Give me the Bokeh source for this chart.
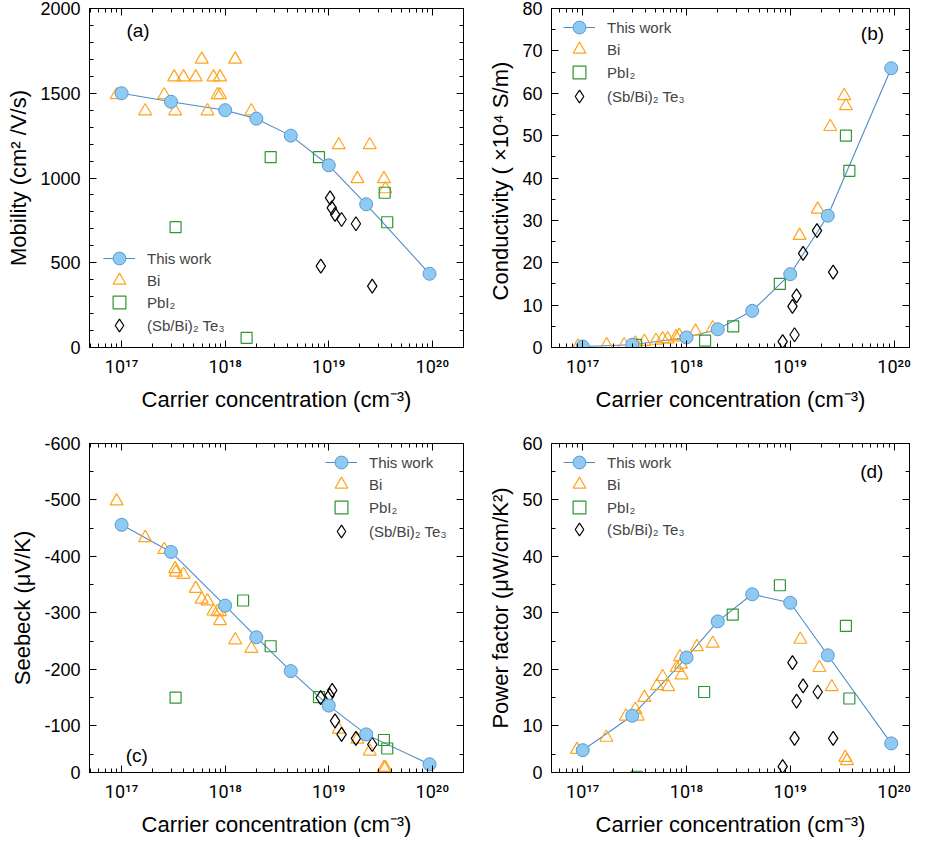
from bokeh.plotting import figure
from bokeh.layouts import column, row
from bokeh.models import (Range1d, LogAxis, LinearAxis, FixedTicker, SingleIntervalTicker,
                          CustomJSTickFormatter, Legend, LegendItem, Label)
from bokeh.embed import file_html
from bokeh.resources import INLINE

FONT = "Liberation Sans"
TICK_FONT_X = "Roboto"

# ---------------- data ----------------
# "This work" (shared carrier concentrations, cm^-3)
tw_n = [1.0e17, 3.0e17, 1.0e18, 2.0e18, 4.3e18, 1.0e19, 2.3e19, 9.4e19]
mob_tw = [1500, 1450, 1400, 1350, 1250, 1075, 845, 435]
cond_tw = [0.24, 0.64, 2.36, 4.3, 8.65, 17.3, 31.1, 65.9]
seeb_tw = [-456, -408, -313, -257, -197, -136, -85, -32]
pf_tw = [5.7, 11.8, 22.1, 28.5, 33.3, 31.8, 22.5, 6.9]

# (a) mobility
mob_bi_n = [8.95e16, 1.69e17, 2.58e17, 3.29e17, 3.22e17, 3.96e17, 5.20e17, 5.94e17, 6.75e17, 7.71e17,
            8.93e17, 8.43e17, 8.93e17, 1.25e18, 1.79e18, 1.25e19, 2.49e19, 1.89e19, 3.41e19, 3.52e19]
mob_bi = [1490, 1395, 1490, 1395, 1595, 1595, 1595, 1700, 1395, 1595,
          1595, 1490, 1490, 1700, 1395, 1195, 1195, 995, 995, 935]
mob_pb_n = [3.32e17, 2.75e18, 8.05e18, 3.47e19, 3.67e19, 1.61e18]
mob_pb = [710, 1123, 1123, 913, 739, 57]
mob_sb_n = [1.03e19, 1.07e19, 1.15e19, 1.33e19, 1.83e19, 8.38e18, 2.63e19]
mob_sb = [883, 824, 785, 755, 730, 480, 362]

# (b) conductivity (x10^4 S/m)
cond_bi_n = [9.0e16, 1.70e17, 2.51e17, 3.21e17, 3.93e17, 5.08e17, 5.89e17, 6.59e17, 7.93e17, 8.51e17,
             1.22e18, 1.79e18, 1.23e19, 1.84e19, 2.43e19, 3.31e19, 3.44e19]
cond_bi = [0.3, 0.6, 0.6, 1.0, 1.4, 1.65, 2.0, 2.0, 2.45, 2.8,
           3.8, 4.6, 26.4, 32.6, 52.1, 59.4, 57.0]
cond_pb_n = [3.27e17, 1.51e18, 2.82e18, 7.94e18, 3.44e19, 3.71e19]
cond_pb = [0.6, 1.6, 5.0, 15.0, 50.0, 41.7]
cond_sb_n = [1.81e19, 1.33e19, 2.59e19, 1.15e19, 1.05e19, 1.10e19, 8.45e18]
cond_sb = [27.6, 22.2, 17.8, 12.2, 9.7, 3.0, 1.4]

# (c) Seebeck (uV/K)
seeb_bi_n = [8.95e16, 1.69e17, 2.58e17, 3.29e17, 3.35e17, 3.96e17, 5.20e17, 5.94e17, 6.75e17, 7.71e17,
             8.43e17, 8.93e17, 8.93e17, 1.25e18, 1.79e18, 1.25e19, 1.89e19, 2.49e19, 3.41e19, 3.52e19]
seeb_bi = [-498, -433, -412, -378, -372, -368, -343, -324, -321, -303,
           -302, -302, -286, -252, -237, -94, -76, -55, -26, -26]
seeb_pb_n = [3.32e17, 1.49e18, 2.75e18, 8.05e18, 3.41e19, 3.67e19]
seeb_pb = [-150, -322, -241, -151, -75, -60]
seeb_sb_n = [8.36e18, 1.02e19, 1.08e19, 1.15e19, 1.33e19, 1.83e19, 2.63e19]
seeb_sb = [-150, -154, -163, -109, -85, -78, -67]

# (d) power factor (uW/cm/K^2)
pf_bi_n = [8.81e16, 1.69e17, 2.61e17, 3.21e17, 3.39e17, 3.93e17, 5.20e17, 5.89e17, 6.68e17, 8.05e17,
           8.65e17, 8.85e17, 8.97e17, 1.26e18, 1.79e18, 1.25e19, 1.91e19, 2.51e19, 3.39e19, 3.52e19]
pf_bi = [5.8, 7.95, 11.7, 12.9, 11.7, 15.0, 17.1, 18.7, 16.9, 20.3,
         22.2, 20.9, 19.0, 24.0, 24.6, 25.3, 20.3, 16.9, 4.4, 3.8]
pf_pb_n = [3.31e17, 1.48e18, 2.79e18, 7.94e18, 3.44e19, 3.71e19]
pf_pb = [1.0, 16.0, 29.7, 34.9, 27.7, 14.85]
pf_sb_n = [1.05e19, 1.33e19, 1.84e19, 1.15e19, 1.10e19, 2.59e19, 8.45e18]
pf_sb = [21.2, 17.1, 16.0, 14.4, 7.8, 7.8, 2.8]

series_labels = ["This work", "Bi", "PbI\u2082", "(Sb/Bi)\u2082 Te\u2083"]
x_label = "Carrier concentration (cm\u207b\u00b3)"
x_major = [1e17, 1e18, 1e19, 1e20]
x_minor = [m * 10.0 ** e for e in range(16, 21) for m in range(2, 10)]

SUP_JS = """
const s = {"0":"\u2070","1":"\u00b9","2":"\u00b2","3":"\u00b3","4":"\u2074","5":"\u2075",
           "6":"\u2076","7":"\u2077","8":"\u2078","9":"\u2079","-":"\u207b"};
const e = Math.round(Math.log10(tick));
return "10" + String(e).split("").map(c => s[c]).join("");
"""

C_LINE = "#4f8cc6"
C_FILL = "#8ecaf2"
C_EDGE = "#5a9ad4"
C_BI = "#ffa41b"
C_PB = "#2f9632"


def style_axis(ax, standoff, lab_standoff, tick_font=FONT):
    ax.axis_line_color = "black"
    ax.axis_line_width = 1
    ax.major_tick_in = 7
    ax.major_tick_out = 0
    ax.minor_tick_in = 4
    ax.minor_tick_out = 0
    ax.major_tick_line_color = "black"
    ax.minor_tick_line_color = "black"
    ax.major_label_text_font = tick_font
    ax.major_label_text_font_size = "18px"
    ax.major_label_text_color = "black"
    ax.major_label_standoff = standoff
    ax.axis_label_text_font = FONT
    ax.axis_label_text_font_size = "22px"
    ax.axis_label_text_font_style = "normal"
    ax.axis_label_text_color = "black"
    ax.axis_label_standoff = lab_standoff


def mirror(ax):
    ax.axis_line_color = "black"
    ax.axis_line_width = 1
    ax.major_tick_in = 7
    ax.major_tick_out = 0
    ax.minor_tick_in = 4
    ax.minor_tick_out = 0
    ax.major_tick_line_color = "black"
    ax.minor_tick_line_color = "black"
    ax.major_label_text_font_size = "0px"
    ax.major_label_standoff = 0
    ax.formatter = CustomJSTickFormatter(code="return '';")


def panel(width, height, xr, yr, yticker, yformatter, ylabel, left, top, bottom, right,
          n_bi, y_bi, n_pb, y_pb, n_sb, y_sb, y_tw, leg_x, leg_ys, tag, tag_x, tag_y):
    p = figure(width=width, height=height, x_axis_type="log",
               x_range=Range1d(*xr), y_range=Range1d(*yr),
               output_backend="svg", toolbar_location=None,
               min_border_left=left, min_border_right=right,
               min_border_top=top, min_border_bottom=bottom)
    p.xgrid.visible = False
    p.ygrid.visible = False
    p.outline_line_color = "black"
    p.outline_line_alpha = 1
    p.outline_line_width = 1

    xt = FixedTicker(ticks=x_major, minor_ticks=x_minor)
    xa = p.xaxis[0]
    xa.ticker = xt
    xa.formatter = CustomJSTickFormatter(code=SUP_JS)
    xa.axis_label = x_label
    style_axis(xa, 8, 7, TICK_FONT_X)

    ya = p.yaxis[0]
    ya.ticker = yticker
    if yformatter is not None:
        ya.formatter = yformatter
    ya.axis_label = ylabel
    style_axis(ya, 9, 6)

    ta = LogAxis(ticker=xt)
    mirror(ta)
    ra = LinearAxis(ticker=yticker)
    mirror(ra)
    p.add_layout(ta, "above")
    p.add_layout(ra, "right")

    r_line = p.line(tw_n, y_tw, line_color=C_LINE, line_width=1.1)
    r_bi = p.scatter(n_bi, y_bi, marker="triangle", size=13, fill_color=None,
                     line_color=C_BI, line_width=1.2)
    r_pb = p.scatter(n_pb, y_pb, marker="square", size=11, fill_color=None,
                     line_color=C_PB, line_width=1.2)
    r_sb = p.scatter(n_sb, y_sb, marker="diamond", size=14, fill_color=None,
                     line_color="black", line_width=1.2)
    r_tw = p.scatter(tw_n, y_tw, marker="circle", size=13, fill_color=C_FILL,
                     line_color=C_EDGE, line_width=1)

    groups = [[r_line, r_tw], [r_bi], [r_pb], [r_sb]]
    # one single-row legend per series so the row pitch can match the reference
    for lab, rends, ly in zip(series_labels, groups, leg_ys):
        lg = Legend(items=[LegendItem(label=lab, renderers=rends)],
                    location=(leg_x, ly), glyph_width=32, glyph_height=32, spacing=0,
                    padding=0, margin=0, label_standoff=12, label_height=20,
                    label_text_font=FONT, label_text_font_size="15px",
                    border_line_alpha=0, background_fill_alpha=0)
        p.add_layout(lg)

    p.add_layout(Label(x=tag_x, y=tag_y, text=tag, text_font=FONT, text_font_size="19px",
                       text_align="center", text_baseline="middle", text_color="black"))
    return p


pa = panel(470, 435, (4.9e16, 2.0e20), (0, 2000),
           SingleIntervalTicker(interval=500, num_minor_ticks=5), None,
           "Mobility (cm\u00b2 /V/s)", 89, 8, 88, 7,
           mob_bi_n, mob_bi, mob_pb_n, mob_pb, mob_sb_n, mob_sb, mob_tw,
           14, [73, 51, 29, 6], "(a)", 1.44e17, 1870)

pb = panel(454, 435, (5.0e16, 1.41e20), (0, 80),
           SingleIntervalTicker(interval=10, num_minor_ticks=2), None,
           "Conductivity  ( \u00d710\u2074 S/m)", 81, 8, 88, 15,
           cond_bi_n, cond_bi, cond_pb_n, cond_pb, cond_sb_n, cond_sb, cond_tw,
           12, [304, 282, 259, 235], "(b)", 6.2e19, 74)

c_ticks = FixedTicker(ticks=[-600, -500, -400, -300, -200, -100, -17.5],
                      minor_ticks=[-550, -450, -350, -250, -150, -50])
c_fmt = CustomJSTickFormatter(code="return tick == -17.5 ? '0' : tick.toFixed(0);")
pc = panel(470, 412, (4.9e16, 2.0e20), (-17.5, -600), c_ticks, c_fmt,
           "Seebeck (\u03bcV/K)", 89, 8, 75, 7,
           seeb_bi_n, seeb_bi, seeb_pb_n, seeb_pb, seeb_sb_n, seeb_sb, seeb_tw,
           236, [294, 272, 249, 225], "(c)", 1.4e17, -48)

d_ticks = FixedTicker(ticks=[1.75, 10, 20, 30, 40, 50, 60],
                      minor_ticks=[5, 15, 25, 35, 45, 55])
d_fmt = CustomJSTickFormatter(code="return tick == 1.75 ? '0' : tick.toFixed(0);")
pd_ = panel(454, 412, (5.0e16, 1.41e20), (1.75, 60), d_ticks, d_fmt,
            "Power factor (\u03bcW/cm/K\u00b2)", 81, 8, 75, 15,
            pf_bi_n, pf_bi, pf_pb_n, pf_pb, pf_sb_n, pf_sb, pf_tw,
            12, [294, 272, 249, 227], "(d)", 6.1e19, 55)

layout = column(row(pa, pb), row(pc, pd_))

with open("out.html", "w", encoding="utf-8") as f:
    f.write(file_html(layout, INLINE))
